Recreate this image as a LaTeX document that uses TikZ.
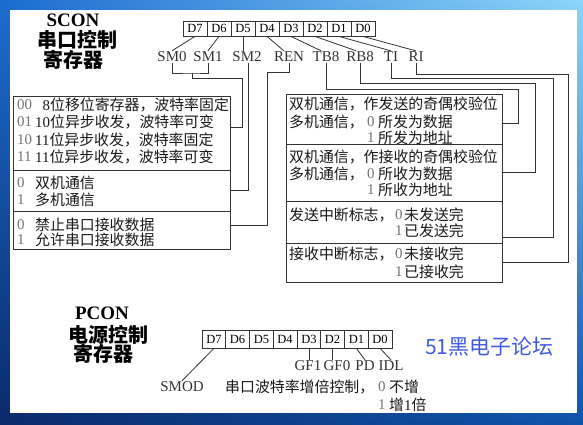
\documentclass[tikz,border=0pt]{standalone}
\usepackage{fontspec}
\setmainfont{Liberation Serif}
\newfontfamily\cjk{Noto Sans CJK SC}
\usepackage{tikz}
\usetikzlibrary{positioning,calc,shadings}
\newcommand{\zh}[1]{{\cjk #1}}
\newcommand{\fsz}[1]{\fontsize{#1}{#1}\selectfont}

\tikzset{
  cell/.style={draw=black!80, line width=0.8pt, minimum width=24pt, minimum height=15pt, inner sep=0pt, font=\fsz{12.5}},
  pcell/.style={cell, minimum width=23.75pt, minimum height=18pt},
  bitlbl/.style={inner sep=1pt, font=\fsz{15}, text=black!80},
  panel/.style={draw=black!80, line width=0.8pt, inner sep=0pt},
  txt/.style={anchor=west, inner sep=0pt, font=\fsz{14.9}, text=black!90},
  opt/.style={txt, text=black!55},
  wire/.style={draw=black!80, line width=0.8pt},
  title/.style={inner sep=0pt, font=\fsz{20}\bfseries}
}

\begin{document}
\begin{tikzpicture}[x=1pt,y=-1pt]
    \definecolor{frameul}{RGB}{27, 108, 208}
    \definecolor{frameur}{RGB}{140, 214, 250}
    \definecolor{framell}{RGB}{10, 42, 106}
    \definecolor{framelr}{RGB}{14, 84, 170}
    \definecolor{forum}{RGB}{66, 90, 224}

    \useasboundingbox (0,0) rectangle (583,424);
    \shade [upper left=frameul, upper right=frameur, lower left=framell, lower right=framelr] (0,0) rectangle (583,424);
    \fill [white] (10,10) rectangle (577,413);

    % SCON
    \node [title, font=\fsz{19}\bfseries] (scon) at (73,20) {SCON};
    \node [title] (sconzh1) at (77,40) {\zh{串口控制}};
    \node [title] (sconzh2) at (73,60) {\zh{寄存器}};

    \node [cell] (s7) at (195,28.5) {D7};
    \node [cell] (s6) at (219,28.5) {D6};
    \node [cell] (s5) at (243,28.5) {D5};
    \node [cell] (s4) at (267,28.5) {D4};
    \node [cell] (s3) at (291,28.5) {D3};
    \node [cell] (s2) at (315,28.5) {D2};
    \node [cell] (s1) at (339,28.5) {D1};
    \node [cell] (s0) at (363,28.5) {D0};

    \node [bitlbl] (sm0) at (172,57) {SM0};
    \node [bitlbl] (sm1) at (208,57) {SM1};
    \node [bitlbl] (sm2) at (247,57) {SM2};
    \node [bitlbl] (ren) at (289,57) {REN};
    \node [bitlbl] (tb8) at (326,57) {TB8};
    \node [bitlbl] (rb8) at (360,57) {RB8};
    \node [bitlbl] (ti) at (391,57) {TI};
    \node [bitlbl] (ri) at (416,57) {RI};

    \draw [wire] (s7.south) -- (sm0.north);
    \draw [wire] (s6.south) -- (sm1.north);
    \draw [wire] (s5.south) -- (s5.south |- sm2.north);
    \draw [wire] (s4.south) -- ([xshift=-5pt]ren.north);
    \draw [wire] (s3.south) -- ([xshift=-5pt]tb8.north);
    \draw [wire] (s2.south) -- ([xshift=-4pt]rb8.north);
    \draw [wire] (s1.south) -- (ti.north);
    \draw [wire] (s0.south) -- (ri.north);

    % left panels
    \node [panel, minimum width=217pt, minimum height=74pt] (modebox) at (121.5,133) {};
    \node [panel, minimum width=217pt, minimum height=41pt] (mcbox) at (121.5,190.5) {};
    \node [panel, minimum width=217pt, minimum height=38pt] (renbox) at (121.5,230) {};

    \node [opt] (m00) at (17,105) {00};
    \node [txt] (m00t) at (35,105) {\phantom{1}8\zh{位移位寄存器，波特率固定}};
    \node [opt] (m01) at (17,122) {01};
    \node [txt] (m01t) at (35,122) {10\zh{位异步收发，波特率可变}};
    \node [opt] (m10) at (17,140) {10};
    \node [txt] (m10t) at (35,140) {11\zh{位异步收发，波特率固定}};
    \node [opt] (m11) at (17,157) {11};
    \node [txt] (m11t) at (35,157) {11\zh{位异步收发，波特率可变}};

    \node [opt] (mc0) at (17,183) {0};
    \node [txt] (mc0t) at (35,183) {\zh{双机通信}};
    \node [opt] (mc1) at (17,200) {1};
    \node [txt] (mc1t) at (35,200) {\zh{多机通信}};

    \node [opt] (rn0) at (17,225) {0};
    \node [txt] (rn0t) at (35,225) {\zh{禁止串口接收数据}};
    \node [opt] (rn1) at (17,240) {1};
    \node [txt] (rn1t) at (35,240) {\zh{允许串口接收数据}};

    \coordinate (smjoin) at (192,73);
    \draw [wire] (sm0.south) |- (smjoin) -| (sm1.south);
    \draw [wire] (smjoin) -- ++(0,5) -| (242,127) -- (modebox.east |- 0,127);
    \draw [wire] ([xshift=1pt]sm2.south) |- (mcbox.east);
    \draw [wire] (ren.south) |- (267,72) |- (renbox.east |- 0,225);

    % right panels
    \node [panel, minimum width=216pt, minimum height=50pt] (tbbox) at (394,119) {};
    \node [panel, minimum width=216pt, minimum height=57pt] (rbbox) at (394,172.5) {};
    \node [panel, minimum width=216pt, minimum height=42pt] (tibox) at (394,222) {};
    \node [panel, minimum width=216pt, minimum height=39pt] (ribox) at (394,262.5) {};

    \node [txt] (tb1) at (289,104) {\zh{双机通信，作发送的奇偶校验位}};
    \node [txt] (tb2) at (289,122) {\zh{多机通信，}};
    \node [opt] (tb0n) at (367,122) {0};
    \node [txt] (tb0t) at (378,122) {\zh{所发为数据}};
    \node [opt] (tb1n) at (367,138) {1};
    \node [txt] (tb1t) at (378,138) {\zh{所发为地址}};

    \node [txt] (rb1) at (289,157) {\zh{双机通信，作接收的奇偶校验位}};
    \node [txt] (rb2) at (289,174) {\zh{多机通信，}};
    \node [opt] (rb0n) at (367,174) {0};
    \node [txt] (rb0t) at (378,174) {\zh{所收为数据}};
    \node [opt] (rb1n) at (367,190) {1};
    \node [txt] (rb1t) at (378,190) {\zh{所收为地址}};

    \node [txt] (ti1) at (289,215) {\zh{发送中断标志，}};
    \node [opt] (ti0n) at (395,215) {0};
    \node [txt] (ti0t) at (404,215) {\zh{未发送完}};
    \node [opt] (ti1n) at (395,231) {1};
    \node [txt] (ti1t) at (404,231) {\zh{已发送完}};

    \node [txt] (ri1) at (289,254) {\zh{接收中断标志，}};
    \node [opt] (ri0n) at (395,254) {0};
    \node [txt] (ri0t) at (404,254) {\zh{未接收完}};
    \node [opt] (ri1n) at (395,272) {1};
    \node [txt] (ri1t) at (404,272) {\zh{已接收完}};

    \draw [wire] (tb8.south) |- (518,89) |- (tbbox.east |- 0,123);
    \draw [wire] (rb8.south) |- (535,83) |- (rbbox.east);
    \draw [wire] (ti.south) |- (553,78) |- (tibox.east |- 0,237);
    \draw [wire] (ri.south) |- (568,74) |- (ribox.east);

    % PCON
    \node [title, font=\fsz{19}\bfseries] (pcon) at (102,313) {PCON};
    \node [title] (pconzh1) at (108,335) {\zh{电源控制}};
    \node [title] (pconzh2) at (103,354) {\zh{寄存器}};

    \node [pcell] (p7) at (213.9,339) {D7};
    \node [pcell] (p6) at (237.6,339) {D6};
    \node [pcell] (p5) at (261.4,339) {D5};
    \node [pcell] (p4) at (285.1,339) {D4};
    \node [pcell] (p3) at (308.9,339) {D3};
    \node [pcell] (p2) at (332.6,339) {D2};
    \node [pcell] (p1) at (356.4,339) {D1};
    \node [pcell] (p0) at (380.1,339) {D0};

    \node [bitlbl] (gf1) at (308,366) {GF1};
    \node [bitlbl] (gf0) at (337,366) {GF0};
    \node [bitlbl] (pd) at (365,366) {PD};
    \node [bitlbl] (idl) at (391,366) {IDL};
    \node [bitlbl] (smod) at (182,387) {SMOD};

    \draw [wire] (p3.south) -- (p3.south |- gf1.north);
    \draw [wire] (p2.south) -- (p2.south |- gf0.north);
    \draw [wire] (p1.south) -- (pd.north);
    \draw [wire] (p0.south) -- (idl.north);
    \draw [wire] (p7.south) -- (smod.north);

    \node [txt] (smodt) at (225,387) {\zh{串口波特率增倍控制，}};
    \node [opt] (smod0n) at (378,387) {0};
    \node [txt] (smod0t) at (389,387) {\zh{不增}};
    \node [opt] (smod1n) at (378,405) {1};
    \node [txt] (smod1t) at (389,405) {\zh{增}1\zh{倍}};

    \node [inner sep=0pt, anchor=west, text=forum, font=\fsz{21}\cjk] (forum) at (425,347) {51黑电子论坛};
  \end{tikzpicture}
\end{document}
